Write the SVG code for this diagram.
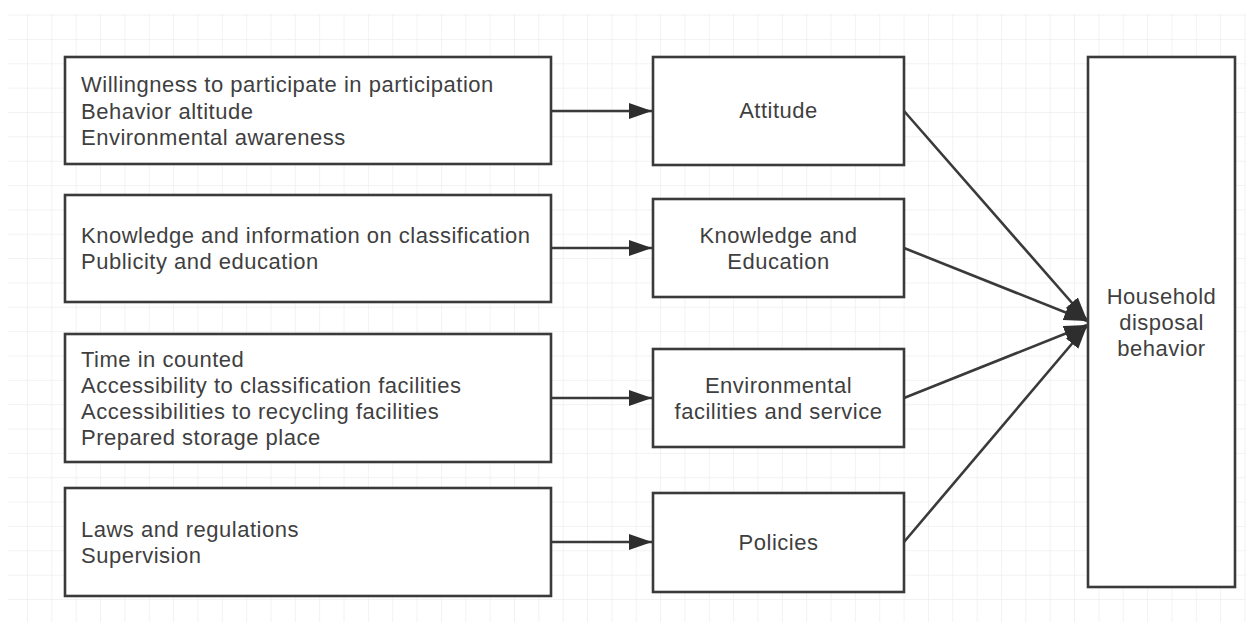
<svg xmlns="http://www.w3.org/2000/svg" width="1246" height="622" viewBox="0 0 1246 622">
<style>
.box{fill:#fff;stroke:#3a3a3a;stroke-width:2.6}
.t{font-family:"Liberation Sans","Open Sans",sans-serif;font-size:22px;letter-spacing:0.5px;fill:#3f3f3f}
.c{text-anchor:middle}
.ln{stroke:#3a3a3a;stroke-width:2.6;fill:none}
</style>
<defs>
<pattern id="grid" x="2.65" y="14.6" width="24.35" height="24.35" patternUnits="userSpaceOnUse">
<path d="M0,0 H24.35 M0,0 V24.35" stroke="#eeeeee" stroke-width="1.5" fill="none"/>
</pattern>
<marker id="ah" markerUnits="userSpaceOnUse" markerWidth="24" markerHeight="17" refX="23" refY="8" orient="auto">
<path d="M0,0 L23,8 L0,16 z" fill="#2e2e2e"/>
</marker>
</defs>
<rect width="1246" height="622" fill="#fff"/>
<rect x="8" y="14" width="1238" height="608" fill="url(#grid)"/>
<g id="connectors">
<line class="ln" x1="551" y1="111" x2="652" y2="111" marker-end="url(#ah)"/>
<line class="ln" x1="551" y1="248" x2="652" y2="248" marker-end="url(#ah)"/>
<line class="ln" x1="551" y1="398" x2="652" y2="398" marker-end="url(#ah)"/>
<line class="ln" x1="551" y1="542" x2="652" y2="542" marker-end="url(#ah)"/>
<line class="ln" x1="904" y1="111" x2="1087" y2="320" marker-end="url(#ah)"/>
<line class="ln" x1="904" y1="248" x2="1087" y2="321" marker-end="url(#ah)"/>
<line class="ln" x1="904" y1="398" x2="1087" y2="325" marker-end="url(#ah)"/>
<line class="ln" x1="904" y1="542" x2="1087" y2="326" marker-end="url(#ah)"/>
</g>
<g id="n1">
<rect class="box" x="65" y="57" width="486" height="107"/>
<text class="t"><tspan x="81" y="92">Willingness to participate in participation</tspan><tspan x="81" y="118.5">Behavior altitude</tspan><tspan x="81" y="145">Environmental awareness</tspan></text>
</g>
<g id="n2">
<rect class="box" x="65" y="195" width="486" height="107"/>
<text class="t"><tspan x="81" y="243">Knowledge and information on classification</tspan><tspan x="81" y="269">Publicity and education</tspan></text>
</g>
<g id="n3">
<rect class="box" x="65" y="334" width="486" height="128"/>
<text class="t"><tspan x="81" y="367">Time in counted</tspan><tspan x="81" y="393">Accessibility to classification facilities</tspan><tspan x="81" y="419">Accessibilities to recycling facilities</tspan><tspan x="81" y="445">Prepared storage place</tspan></text>
</g>
<g id="n4">
<rect class="box" x="65" y="488" width="486" height="108"/>
<text class="t"><tspan x="81" y="537">Laws and regulations</tspan><tspan x="81" y="563">Supervision</tspan></text>
</g>
<g id="m1">
<rect class="box" x="653" y="57" width="251" height="108"/>
<text class="t c" x="778.5" y="118">Attitude</text>
</g>
<g id="m2">
<rect class="box" x="653" y="199" width="251" height="98"/>
<text class="t c"><tspan x="778.5" y="243">Knowledge and</tspan><tspan x="778.5" y="269">Education</tspan></text>
</g>
<g id="m3">
<rect class="box" x="653" y="349" width="251" height="98"/>
<text class="t c"><tspan x="778.5" y="393">Environmental</tspan><tspan x="778.5" y="419">facilities and service</tspan></text>
</g>
<g id="m4">
<rect class="box" x="653" y="493" width="251" height="99"/>
<text class="t c" x="778.5" y="550">Policies</text>
</g>
<g id="r1">
<rect class="box" x="1088" y="57" width="147" height="530"/>
<text class="t c"><tspan x="1161.5" y="304">Household</tspan><tspan x="1161.5" y="330">disposal</tspan><tspan x="1161.5" y="356">behavior</tspan></text>
</g>
</svg>
